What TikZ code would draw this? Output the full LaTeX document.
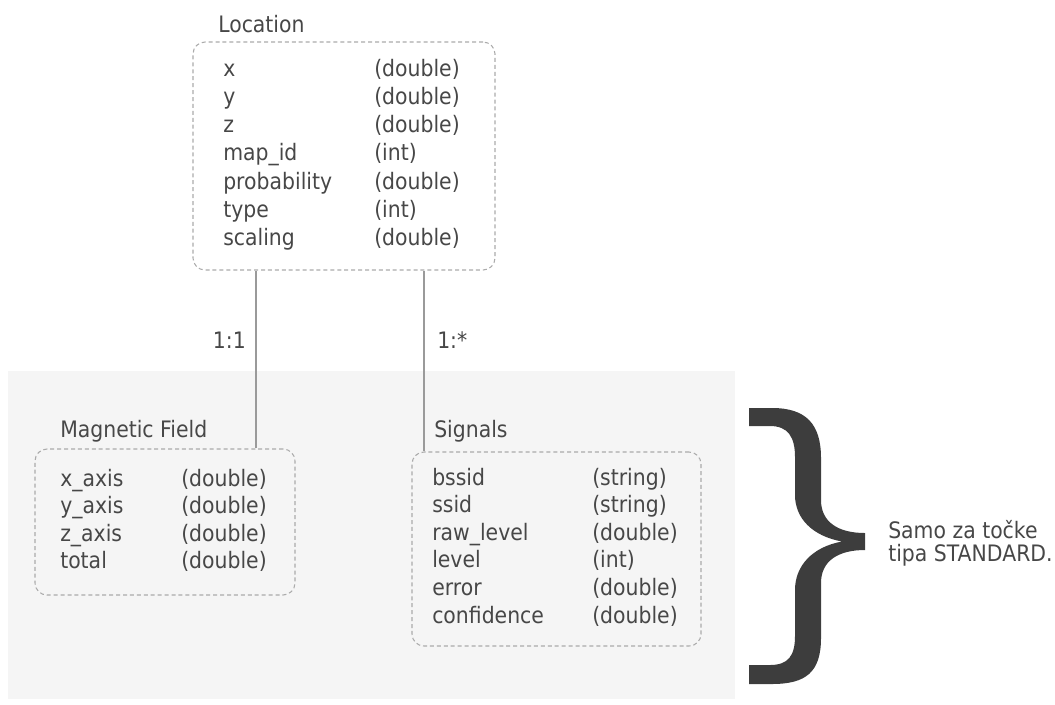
\documentclass[tikz,border=0pt]{standalone}
\usepackage{fontspec}
\setmainfont{DejaVu Sans}[FakeStretch=0.9]
\definecolor{bggray}{HTML}{F5F5F5}
\definecolor{boxgray}{HTML}{ABABAB}
\definecolor{linegray}{HTML}{9A9A9A}
\definecolor{textgray}{HTML}{474747}
\definecolor{bracegray}{HTML}{3D3D3D}
\tikzset{
  box/.style={draw=boxgray, line width=0.8pt, dash pattern=on 3pt off 2.2pt,
    rounded corners=9pt, inner sep=0pt},
  conn/.style={draw=linegray, line width=0.8pt},
  txt/.style={anchor=base west, inner sep=0pt, text=textgray,
    font=\fontsize{17}{20}\selectfont},
  txte/.style={txt, anchor=base east},
}
\begin{document}
\begin{tikzpicture}[x=0.75pt, y=-0.75pt]
\useasboundingbox (0,0) rectangle (1055,704);
% background panel
\fill[bggray] (8,371) rectangle (735,699);
% boxes
\node[box, minimum width=302*0.75pt, minimum height=228*0.75pt] (loc) at (344,156) {};
\node[box, minimum width=260*0.75pt, minimum height=146*0.75pt] (mf) at (165,522) {};
\node[box, minimum width=289*0.75pt, minimum height=194*0.75pt] (sig) at (556.5,549) {};
% titles
\node[txt] (loct) at (218,32) {Location};
\node[txt] (mft) at (60,437) {Magnetic Field};
\node[txt] (sigt) at (434,437) {Signals};
% location rows
\foreach \n/\t [count=\i] in {x/(double), y/(double), z/(double), map\_id/(int),
  probability/(double), type/(int), scaling/(double)} {
  \node[txt] (locn\i) at (223,{76+28.3*(\i-1)}) {\n};
  \node[txt] (loct\i) at (374,{76+28.3*(\i-1)}) {\t};
}
% magnetic field rows
\foreach \n/\t [count=\i] in {x\_axis/(double), y\_axis/(double), z\_axis/(double), total/(double)} {
  \node[txt] (mfn\i) at (60,{486+27.5*(\i-1)}) {\n};
  \node[txt] (mft\i) at (181,{486+27.5*(\i-1)}) {\t};
}
% signals rows
\foreach \n/\t [count=\i] in {bssid/(string), ssid/(string), raw\_level/(double),
  level/(int), error/(double), confidence/(double)} {
  \node[txt] (sign\i) at (432,{485+27.6*(\i-1)}) {\n};
  \node[txt] (sigty\i) at (592,{485+27.6*(\i-1)}) {\t};
}
% connectors
\coordinate (c1) at (256,0);
\coordinate (c2) at (424,0);
\draw[conn] (c1 |- loc.south) -- (c1 |- mf.north);
\draw[conn] (c2 |- loc.south) -- (c2 |- sig.north);
\node[txte] (l1) at (246,348) {1:1};
\node[txt] (l2) at (437,348) {1:*};
% brace
\fill[bracegray] (749,408) -- (772,408) .. controls (806,408) and (821,424) .. (821,458)
  -- (821,500) .. controls (821,522) and (838,533) .. (865,533)
  -- (865,550) .. controls (838,550) and (821,561) .. (821,583)
  -- (821,638) .. controls (821,672) and (806,684) .. (772,684)
  -- (749,684) -- (749,665) -- (770,665) .. controls (788,665) and (795,656) .. (795,636)
  -- (795,590) .. controls (795,566) and (812,547) .. (842,541.5)
  .. controls (812,536) and (795,518) .. (795,495)
  -- (795,457) .. controls (795,437) and (788,426) .. (770,426)
  -- (749,426) -- cycle;
\node[txt] (note1) at (888,538) {Samo za točke};
\node[txt] (note2) at (888,561) {tipa STANDARD.};
\end{tikzpicture}
\end{document}
